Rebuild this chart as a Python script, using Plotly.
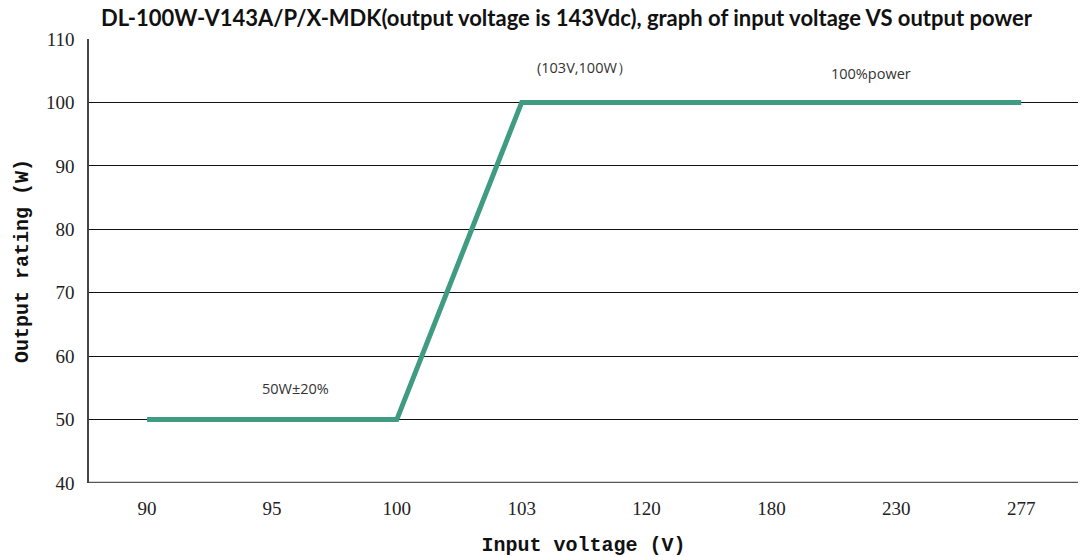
import plotly.graph_objects as go

voltages = ["90", "95", "100", "103", "120", "180", "230", "277"]
power = [50, 50, 50, 100, 100, 100, 100, 100]
y_ticks = [40, 50, 60, 70, 80, 90, 100, 110]

line_color = "#3f9b82"

fig = go.Figure()
fig.add_trace(go.Scatter(
    x=voltages, y=power, mode="lines",
    line=dict(color=line_color, width=5),
    hoverinfo="x+y", showlegend=False,
))

ann_font = dict(family="Open Sans, Arial, sans-serif", size=14.5, color="#333333")
# x positions given as category indices
annotations = [
    dict(x=voltages.index("103"), y=100, text="(103V,100W）", xshift=63, yshift=35, showarrow=False, font=ann_font),
    dict(x=voltages.index("180"), y=100, text="100%power", xshift=100, yshift=29, showarrow=False, font=ann_font),
    dict(x=voltages.index("95"), y=50, text="50W±20%", xshift=24, yshift=31, showarrow=False, font=ann_font),
]
for a in annotations:
    a.update(xref="x", yref="y")

fig.update_layout(
    width=1081, height=557,
    paper_bgcolor="white", plot_bgcolor="white",
    margin=dict(l=89, r=3, t=39, b=74),
    title=dict(
        text="<b>DL-100W-V143A/P/X-MDK(output voltage is 143Vdc), graph of input voltage VS output power</b>",
        x=0.524, xanchor="center", y=1 - 18 / 557, yanchor="middle",
        font=dict(family="Lato, Open Sans, Arial, sans-serif", size=22, color="#111111"),
    ),
    xaxis=dict(
        type="category", categoryorder="array", categoryarray=voltages,
        range=[-0.465, 7.455], automargin=False,
        showgrid=False, zeroline=False,
        showline=False, ticks="", ticklabelstandoff=12,
        tickfont=dict(family="Liberation Serif, DejaVu Serif, serif", size=19, color="#222222"),
        title=dict(text="<b>Input voltage (V)</b>", standoff=22,
                   font=dict(family="Liberation Mono, DejaVu Sans Mono, monospace", size=20, color="#111111")),
    ),
    yaxis=dict(
        range=[40, 110], tickvals=y_ticks, automargin=False,
        showgrid=True, gridcolor="#111111", gridwidth=1,
        zeroline=False,
        showline=True, linecolor="#444444", linewidth=1.5,
        ticks="", ticklabelstandoff=9,
        tickfont=dict(family="Liberation Serif, DejaVu Serif, serif", size=19, color="#222222"),
        title=dict(text="<b>Output rating (W)</b>", standoff=12,
                   font=dict(family="Liberation Mono, DejaVu Sans Mono, monospace", size=20, color="#111111")),
    ),
    annotations=annotations,
)

# bottom axis (thicker grey line at y=40)
fig.add_shape(type="line", xref="paper", yref="y", x0=0, x1=1, y0=40, y1=40,
              line=dict(color="#555555", width=2.5), layer="above")

fig.write_html("out.html", config={"displayModeBar": False},
               post_script="document.body.style.margin='0';")
